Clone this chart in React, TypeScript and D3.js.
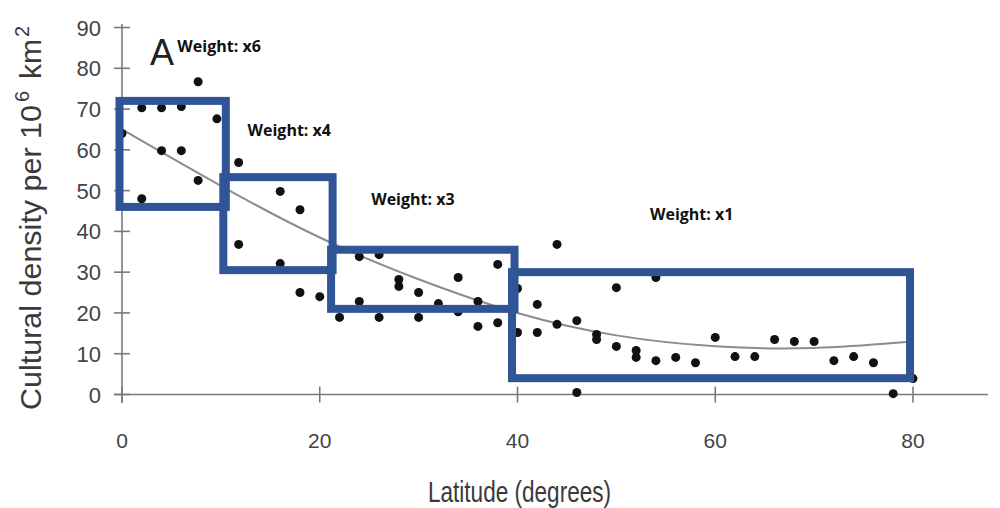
import React, { useEffect, useRef } from 'react';
import * as d3 from 'd3';

// scatter points (latitude, density)
const latitude = [0, 2, 2, 4, 4, 6, 6, 7.7, 7.7, 9.6, 11.8, 11.8, 16, 16, 18, 18, 20, 22, 24, 24, 26, 26, 28, 28, 30, 30, 32, 34, 34, 36, 36, 38, 38, 40, 40, 42, 42, 44, 44, 46, 46, 48, 48, 50, 50, 52, 52, 54, 54, 56, 58, 60, 62, 64, 66, 68, 70, 72, 74, 76, 78, 80];
const density = [64, 70.3, 48, 70.3, 59.8, 70.6, 59.8, 76.7, 52.5, 67.6, 56.9, 36.8, 49.8, 32.1, 45.3, 25, 24, 18.9, 33.8, 22.8, 34.3, 18.9, 28.2, 26.5, 25, 18.9, 22.3, 28.7, 20.3, 22.8, 16.7, 31.9, 17.6, 26, 15.2, 22.1, 15.2, 36.8, 17.2, 18.1, 0.5, 14.7, 13.5, 26.2, 11.8, 10.8, 9.1, 28.7, 8.3, 9.1, 7.8, 14, 9.3, 9.3, 13.5, 13, 13, 8.3, 9.3, 7.8, 0.2, 3.9];

// fitted trend line
const fitLat = [0, 10, 20, 30, 40, 50, 60, 70, 80];
const fitDensity = [65, 51, 38, 28, 19.5, 14, 11.5, 11, 13];

// weighted boxes
const boxLat0 = [0, 10.5, 21.4, 39.7];
const boxLat1 = [10.5, 21.3, 39.7, 79.7];
const boxLo = [46, 30.5, 21, 4];
const boxHi = [72, 53.3, 35.5, 30];
const boxLabels = ['Weight: x6', 'Weight: x4', 'Weight: x3', 'Weight: x1'];
const labelLat = [5.6, 12.7, 25.2, 53.4];
const labelY = [84, 63.3, 46.5, 42.8];

const xTicks = [0, 20, 40, 60, 80];
const yTicks = [0, 10, 20, 30, 40, 50, 60, 70, 80, 90];

const W = 1000, H = 508;

function App() {
  const ref = useRef(null);

  useEffect(() => {
    const svg = d3.select(ref.current);
    svg.selectAll('*').remove();

    const x = d3.scaleLinear().domain([0, 80]).range([122, 913]);
    const y = d3.scaleLinear().domain([0, 90]).range([394.5, 27.5]);

    const axisCol = '#7a7a7a';
    const sans = '"Liberation Sans", Arial, sans-serif';

    // axes lines
    svg.append('line').attr('x1', x(0)).attr('x2', x(0)).attr('y1', 24).attr('y2', 403)
      .attr('stroke', axisCol).attr('stroke-width', 1.6);
    svg.append('line').attr('x1', 114).attr('x2', 988).attr('y1', y(0)).attr('y2', y(0))
      .attr('stroke', axisCol).attr('stroke-width', 1.6);

    svg.selectAll('.ytick').data(yTicks).enter().append('line')
      .attr('x1', x(0) - 8).attr('x2', x(0) + 8)
      .attr('y1', d => y(d)).attr('y2', d => y(d))
      .attr('stroke', axisCol).attr('stroke-width', 1.6);
    svg.selectAll('.xtick').data(xTicks).enter().append('line')
      .attr('x1', d => x(d)).attr('x2', d => x(d))
      .attr('y1', y(0) - 8).attr('y2', y(0) + 8)
      .attr('stroke', axisCol).attr('stroke-width', 1.6);

    svg.selectAll('.ylab').data(yTicks).enter().append('text')
      .attr('x', 101).attr('y', d => y(d) + 8)
      .attr('text-anchor', 'end')
      .attr('font-family', sans).attr('font-size', 22).attr('fill', '#444')
      .text(d => d);
    svg.selectAll('.xlab').data(xTicks).enter().append('text')
      .attr('x', d => x(d)).attr('y', 448)
      .attr('text-anchor', 'middle')
      .attr('font-family', sans).attr('font-size', 21).attr('fill', '#444')
      .text(d => d);

    // axis titles
    svg.append('text')
      .attr('x', 428).attr('y', 502)
      .attr('textLength', 183).attr('lengthAdjust', 'spacingAndGlyphs')
      .attr('font-family', sans).attr('font-size', 29).attr('fill', '#3a3a3a')
      .text('Latitude (degrees)');

    const yt = svg.append('text')
      .attr('transform', 'translate(41,410) rotate(-90)')
      .attr('font-family', sans).attr('font-size', 30).attr('fill', '#3a3a3a');
    yt.append('tspan').attr('x', 0)
      .attr('textLength', 305).attr('lengthAdjust', 'spacingAndGlyphs')
      .text('Cultural density per 10');
    yt.append('tspan').attr('x', 308).attr('dy', -12).attr('font-size', 20).text('6');
    yt.append('tspan').attr('x', 331).attr('dy', 12).text('km');
    yt.append('tspan').attr('x', 373).attr('dy', -12).attr('font-size', 20).text('2');

    // trend line
    const line = d3.line<number>()
      .x((d, i) => x(fitLat[i]))
      .y(d => y(d))
      .curve(d3.curveBasis);
    svg.append('path').attr('d', line(fitDensity))
      .attr('fill', 'none').attr('stroke', '#8c8c8c').attr('stroke-width', 2);

    // points
    svg.selectAll('.pt').data(density).enter().append('circle')
      .attr('cx', (d, i) => x(latitude[i]))
      .attr('cy', d => y(d))
      .attr('r', 4.5)
      .attr('fill', '#111');

    // boxes
    svg.selectAll('.box').data(boxLo).enter().append('rect')
      .attr('x', (d, i) => x(boxLat0[i]) - 2.5)
      .attr('y', (d, i) => y(boxHi[i]))
      .attr('width', (d, i) => x(boxLat1[i]) - x(boxLat0[i]) + 2.5)
      .attr('height', (d, i) => y(d) - y(boxHi[i]))
      .attr('fill', 'none').attr('stroke', '#2f5597').attr('stroke-width', 8);

    svg.selectAll('.wlab').data(boxLabels).enter().append('text')
      .attr('x', (d, i) => x(labelLat[i]))
      .attr('y', (d, i) => y(labelY[i]))
      .attr('font-family', '"Open Sans", sans-serif').attr('font-weight', 'bold')
      .attr('font-size', 16).attr('fill', '#111')
      .text(d => d);

    svg.append('text')
      .attr('x', 150).attr('y', 65)
      .attr('font-family', sans).attr('font-size', 36).attr('fill', '#222')
      .text('A');
  }, []);

  return (
    <svg ref={ref} width={W} height={H}
      style={{ position: 'absolute', left: 0, top: 0, background: '#fff' }} />
  );
}

export default App;
